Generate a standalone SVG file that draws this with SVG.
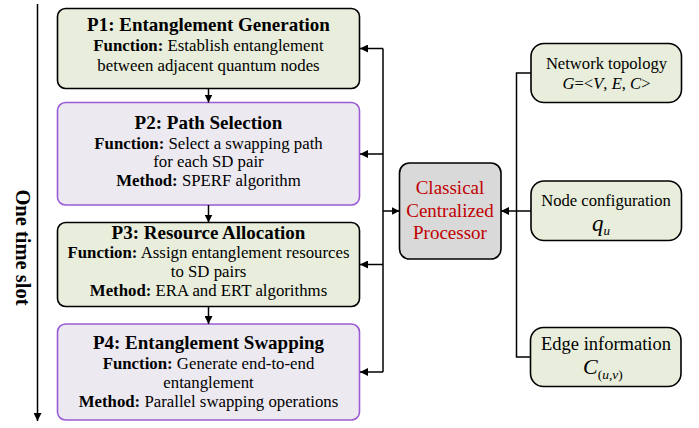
<svg xmlns="http://www.w3.org/2000/svg" width="699" height="428" viewBox="0 0 699 428" font-family="'Liberation Serif', 'Times New Roman', serif">
<style>
.ttl{font-size:19px;font-weight:bold;text-anchor:middle}
.bd{font-size:16.8px;text-anchor:middle}
.b{font-weight:bold}
.i{font-style:italic}
.grn{fill:#e8eedb;stroke:#000;stroke-width:1.6}
.pur{fill:#ece9f1;stroke:#9b5bd4;stroke-width:1.6}
.proc{fill:#d9d9d9;stroke:#000;stroke-width:1.6}
.rt{font-size:16.6px;text-anchor:middle}
.pt{font-size:19px;text-anchor:middle;fill:#c00000}
.ln{fill:none;stroke:#000;stroke-width:1.5}
</style>
<defs>
<marker id="ah" viewBox="0 0 10 10" refX="10" refY="5" markerWidth="8" markerHeight="8" markerUnits="userSpaceOnUse" orient="auto">
<path d="M0,0 L10,5 L0,10 Z" fill="#000"/>
</marker>
</defs>

<g id="timeline">
<line class="ln" x1="37.5" y1="4" x2="37.5" y2="421" marker-end="url(#ah)"/>
<text transform="translate(16,247.5) rotate(90)" style="font-size:20.5px;font-weight:bold;text-anchor:middle">One time slot</text>
</g>

<g id="p1">
<rect class="grn" x="57.5" y="8.5" width="302" height="80" rx="8"/>
<text class="ttl" x="208.5" y="31">P1: Entanglement Generation</text>
<text class="bd" x="208.5" y="51"><tspan class="b">Function:</tspan> Establish entanglement</text>
<text class="bd" x="208.5" y="71">between adjacent quantum nodes</text>
</g>

<g id="p2">
<rect class="pur" x="57.5" y="102.5" width="302" height="102.5" rx="8"/>
<text class="ttl" x="208.5" y="129">P2: Path Selection</text>
<text class="bd" x="208.5" y="148.5"><tspan class="b">Function:</tspan> Select a swapping path</text>
<text class="bd" x="208.5" y="167">for each SD pair</text>
<text class="bd" x="208.5" y="186"><tspan class="b">Method:</tspan> SPERF algorithm</text>
</g>

<g id="p3">
<rect class="grn" x="57.5" y="222.5" width="302" height="84" rx="8"/>
<text class="ttl" x="208.5" y="239">P3: Resource Allocation</text>
<text class="bd" x="208.5" y="258"><tspan class="b">Function:</tspan> Assign entanglement resources</text>
<text class="bd" x="208.5" y="277">to SD pairs</text>
<text class="bd" x="208.5" y="296"><tspan class="b">Method:</tspan> ERA and ERT algorithms</text>
</g>

<g id="p4">
<rect class="pur" x="57.5" y="324" width="302" height="96" rx="8"/>
<text class="ttl" x="208.5" y="349">P4: Entanglement Swapping</text>
<text class="bd" x="208.5" y="369"><tspan class="b">Function:</tspan> Generate end-to-end</text>
<text class="bd" x="208.5" y="388">entanglement</text>
<text class="bd" x="208.5" y="407"><tspan class="b">Method:</tspan> Parallel swapping operations</text>
</g>

<g id="processor">
<rect class="proc" x="399.5" y="163" width="101.5" height="96" rx="10"/>
<text class="pt" x="450" y="194">Classical</text>
<text class="pt" x="450" y="216.5">Centralized</text>
<text class="pt" x="450" y="239">Processor</text>
</g>

<g id="topology">
<rect class="grn" x="531" y="43.5" width="150.5" height="59" rx="13"/>
<text class="rt" x="606.5" y="68.5">Network topology</text>
<text class="rt" x="606.5" y="88.5"><tspan class="i">G</tspan>=&lt;<tspan class="i">V</tspan>, <tspan class="i">E</tspan>, <tspan class="i">C</tspan>&gt;</text>
</g>

<g id="nodeconfig">
<rect class="grn" x="531" y="181" width="150.5" height="59.5" rx="13"/>
<text class="rt" x="606" y="206">Node configuration</text>
<text x="601" y="230.5" style="font-size:23px;font-style:italic;text-anchor:middle">q<tspan style="font-size:13px" dy="4">u</tspan></text>
</g>

<g id="edgeinfo">
<rect class="grn" x="530.5" y="327.5" width="150.5" height="59" rx="13"/>
<text x="606" y="350" style="font-size:18.5px;text-anchor:middle">Edge information</text>
<text x="583" y="373.5" style="font-size:22px;font-style:italic">C<tspan style="font-size:13.5px;font-style:normal" dy="5.5">(</tspan><tspan style="font-size:13.5px">u</tspan><tspan style="font-size:13.5px;font-style:normal">,</tspan><tspan style="font-size:13.5px">v</tspan><tspan style="font-size:13.5px;font-style:normal">)</tspan></text>
</g>

<g id="connectors">
<line class="ln" x1="208.5" y1="88.5" x2="208.5" y2="102.5" marker-end="url(#ah)"/>
<line class="ln" x1="208.5" y1="205" x2="208.5" y2="222.5" marker-end="url(#ah)"/>
<line class="ln" x1="208.5" y1="306.5" x2="208.5" y2="324" marker-end="url(#ah)"/>
<line class="ln" x1="383" y1="48.5" x2="383" y2="372"/>
<line class="ln" x1="383" y1="48.5" x2="360" y2="48.5" marker-end="url(#ah)"/>
<line class="ln" x1="383" y1="154" x2="360" y2="154" marker-end="url(#ah)"/>
<line class="ln" x1="383" y1="264.5" x2="360" y2="264.5" marker-end="url(#ah)"/>
<line class="ln" x1="383" y1="372" x2="360" y2="372" marker-end="url(#ah)"/>
<line class="ln" x1="383" y1="211" x2="399.5" y2="211" marker-end="url(#ah)"/>
<polyline class="ln" points="531,73 516.5,73 516.5,357 530.5,357"/>
<line class="ln" x1="531" y1="211" x2="501" y2="211" marker-end="url(#ah)"/>
</g>
</svg>
